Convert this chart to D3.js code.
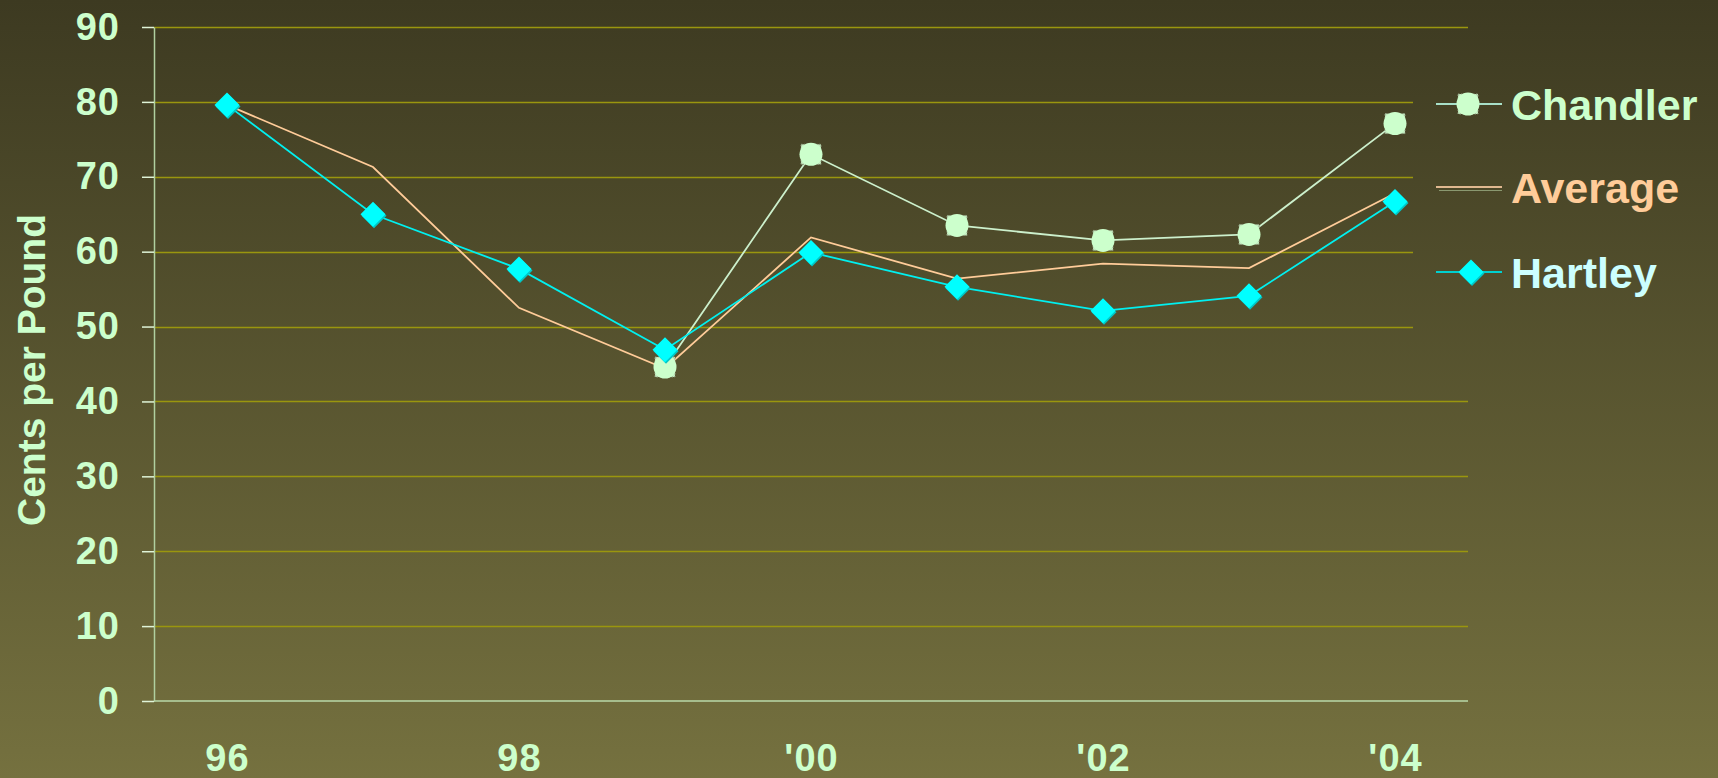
<!DOCTYPE html>
<html><head><meta charset="utf-8">
<script src="https://cdn.jsdelivr.net/npm/d3@7"></script>
<style>html,body{margin:0;padding:0;background:#3f3c22;overflow:hidden}</style>
</head><body><svg id="c" width="1718" height="778"></svg>
<script>
// ---- data ----
const years = ["96","97","98","99","'00","'01","'02","'03","'04"];
const xTickLabels = ["96","98","'00","'02","'04"];
const yTickValues = [0,10,20,30,40,50,60,70,80,90];
const seriesNames = ["Chandler","Average","Hartley"];
const chandler = [null,null,null,44.6,73.0,63.5,61.5,62.3,77.1];
const average  = [79.6,71.3,52.5,44.4,61.9,56.4,58.4,57.8,67.8];
const hartley  = [79.6,65.0,57.7,46.9,59.9,55.3,52.1,54.1,66.7];
const yTitle = "Cents per Pound";

// ---- layout ----
const W = 1718, H = 778;
const L = 154, R = 1468, T = 27, B = 701;
const FONT = "'Liberation Sans', Arial, sans-serif";
const labelColor = "#ccffcc";

const svg = d3.select("#c");
const defs = svg.append("defs");
const grad = defs.append("linearGradient").attr("id","bg")
  .attr("gradientUnits","userSpaceOnUse").attr("x1",0).attr("y1",0).attr("x2",0).attr("y2",H);
grad.append("stop").attr("offset","0").attr("stop-color","#3d3a21");
grad.append("stop").attr("offset","1").attr("stop-color","#75713f");
svg.append("rect").attr("width",W).attr("height",H).attr("fill","url(#bg)");

const x = d3.scalePoint().domain(years).range([L,R]).padding(0.5);
const y = d3.scaleLinear().domain([0,90]).range([B,T]);

// gridlines
svg.append("g").selectAll("line").data(yTickValues.filter(v=>v>0)).join("line")
  .attr("x1",L).attr("x2",R).attr("y1",d=>Math.round(y(d))+0.5).attr("y2",d=>Math.round(y(d))+0.5)
  .attr("stroke","#9a960e").attr("stroke-width",1.3);

// y axis
const yAxis = svg.append("g").attr("transform",`translate(${L},0)`)
  .call(d3.axisLeft(y).tickValues(yTickValues).tickSize(12).tickPadding(22).tickSizeOuter(0));
yAxis.select(".domain").attr("stroke","#b0d0a0").attr("stroke-width",1.5);
yAxis.selectAll(".tick line").attr("stroke","#e0f4d8").attr("stroke-width",1.5);
yAxis.selectAll(".tick text").attr("fill",labelColor).attr("font-family",FONT)
  .attr("font-weight","bold").attr("font-size",38).attr("letter-spacing",1);

// x axis
const xAxis = svg.append("g").attr("transform",`translate(0,${B})`)
  .call(d3.axisBottom(x).tickValues(xTickLabels).tickSize(0).tickPadding(0).tickSizeOuter(0));
xAxis.select(".domain").attr("stroke","#b8d8a8").attr("stroke-width",1.5)
  .attr("d",`M${L},0H${R}`);
xAxis.selectAll(".tick text").attr("fill",labelColor).attr("font-family",FONT)
  .attr("font-weight","bold").attr("font-size",38).attr("dy",0).attr("y",70).attr("letter-spacing",1);

// y title
svg.append("text").attr("transform",`translate(45,${(T+B)/2+6}) rotate(-90)`)
  .attr("text-anchor","middle").attr("fill",labelColor).attr("font-family",FONT)
  .attr("font-weight","bold").attr("font-size",39).text(yTitle);

// legend box occluding gridlines
svg.append("rect").attr("x",1413).attr("y",45).attr("width",W-1413).attr("height",300)
  .attr("fill","url(#bg)");

const line = d3.line().defined(d=>d.v!==null).x(d=>x(d.k)).y(d=>y(d.v));
const toPts = arr => years.map((k,i)=>({k, v:arr[i]}));

// lines
svg.append("path").attr("d",line(toPts(chandler))).attr("fill","none").attr("stroke","#ccf0cc").attr("stroke-width",1.8);
svg.append("path").attr("d",line(toPts(average))).attr("fill","none").attr("stroke","#ffcc99").attr("stroke-width",1.8);
svg.append("path").attr("d",line(toPts(hartley))).attr("fill","none").attr("stroke","#00f0f0").attr("stroke-width",1.8);

function chandlerMarker(g, cx, cy){
  g.append("rect").attr("x",cx-10).attr("y",cy-10).attr("width",20).attr("height",20)
    .attr("fill","#c4ecc0").attr("stroke","#8e9c7e").attr("stroke-width",1).attr("stroke-dasharray","1.5,1.5");
  g.append("circle").attr("cx",cx).attr("cy",cy).attr("r",11.5).attr("fill","#ccffcc");
}
function diamond(g, cx, cy){
  const s = 12.5;
  const p = (ox,oy)=>`M${cx+ox},${cy-s+oy}L${cx+s+ox},${cy+oy}L${cx+ox},${cy+s+oy}L${cx-s+ox},${cy+oy}Z`;
  g.append("path").attr("d",p(1,1.5)).attr("fill","#00c8c8");
  g.append("path").attr("d",p(0,0)).attr("fill","#00ffff");
}

// markers
const mC = svg.append("g");
toPts(chandler).filter(d=>d.v!==null).forEach(d=>chandlerMarker(mC, x(d.k), y(d.v)));
const mH = svg.append("g");
toPts(hartley).forEach(d=>diamond(mH, x(d.k), y(d.v)));

// legend
const lg = svg.append("g");
const legendY = [104, 187, 272];
const legendColors = ["#ccffcc","#ffcc99","#ccffff"];
// Chandler
lg.append("line").attr("x1",1436).attr("x2",1502).attr("y1",legendY[0]).attr("y2",legendY[0]).attr("stroke","#a8e0c8").attr("stroke-width",1.8);
chandlerMarker(lg, 1468, legendY[0]);
// Average
lg.append("line").attr("x1",1436).attr("x2",1502).attr("y1",legendY[1]).attr("y2",legendY[1]).attr("stroke","#e0b890").attr("stroke-width",1.8);
lg.append("line").attr("x1",1439).attr("x2",1502).attr("y1",legendY[1]+3.5).attr("y2",legendY[1]+3.5).attr("stroke","#8a9870").attr("stroke-width",1);
// Hartley
lg.append("line").attr("x1",1436).attr("x2",1502).attr("y1",legendY[2]).attr("y2",legendY[2]).attr("stroke","#00d0d0").attr("stroke-width",1.8);
diamond(lg, 1471, legendY[2]);
lg.selectAll("text.lt").data(seriesNames).join("text").attr("class","lt")
  .attr("x",1511).attr("y",(d,i)=>legendY[i]+16)
  .attr("fill",(d,i)=>legendColors[i]).attr("font-family",FONT).attr("font-weight","bold")
  .attr("font-size",43).text(d=>d);
</script>
</body></html>
